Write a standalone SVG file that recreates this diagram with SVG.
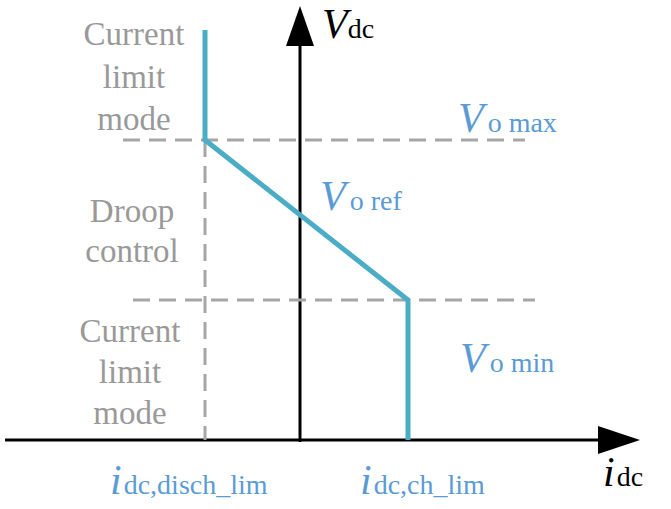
<svg xmlns="http://www.w3.org/2000/svg" width="671" height="509" viewBox="0 0 671 509">
<style>
.g{font-family:"Liberation Serif",serif;font-size:33px;fill:#999;text-anchor:middle}
.b{font-family:"Liberation Serif",serif;fill:#5b9bd5}
.k{font-family:"Liberation Serif",serif;fill:#000}
.i{font-style:italic;font-size:42px}
.s{font-size:28px}
.d{stroke:#a6a6a6;stroke-width:3;stroke-dasharray:17,9;fill:none}
</style>
<rect width="671" height="509" fill="#fff"/>
<g id="connectors">
<line x1="5" y1="440" x2="600" y2="440" stroke="#000" stroke-width="3"/>
<polygon points="598,426 640,440 598,454" fill="#000"/>
<line x1="300" y1="442" x2="300" y2="40" stroke="#000" stroke-width="3"/>
<polygon points="286,46 300,6 314,46" fill="#000"/>
<line class="d" x1="123" y1="140" x2="525" y2="140"/>
<line class="d" x1="133" y1="300" x2="535" y2="300"/>
<line class="d" x1="205" y1="140" x2="205" y2="440"/>
<polyline points="205,30 205,140 408,300 408,440" fill="none" stroke="#4bacc6" stroke-width="5"/>
</g>
<g id="mode1"><text class="g" x="134" y="45">Current</text><text class="g" x="134" y="88">limit</text><text class="g" x="134" y="130">mode</text></g>
<g id="droop"><text class="g" x="132" y="222">Droop</text><text class="g" x="132" y="262">control</text></g>
<g id="mode2"><text class="g" x="130" y="342">Current</text><text class="g" x="130" y="383">limit</text><text class="g" x="130" y="424">mode</text></g>
<g id="labels">
<text class="k" x="322" y="38"><tspan class="i">V</tspan><tspan class="s">dc</tspan></text>
<text class="b" x="458" y="132"><tspan class="i">V</tspan><tspan class="s" dx="4">o max</tspan></text>
<text class="b" x="320" y="210"><tspan class="i">V</tspan><tspan class="s" dx="4">o ref</tspan></text>
<text class="b" x="460" y="372"><tspan class="i">V</tspan><tspan class="s" dx="4">o min</tspan></text>
<text class="k" x="603" y="486"><tspan class="i">i</tspan><tspan class="s" dx="2">dc</tspan></text>
<text class="b" x="110" y="494"><tspan class="i">i</tspan><tspan class="s" dx="2">dc,disch_lim</tspan></text>
<text class="b" x="360" y="494"><tspan class="i">i</tspan><tspan class="s" dx="2">dc,ch_lim</tspan></text>
</g>
</svg>
